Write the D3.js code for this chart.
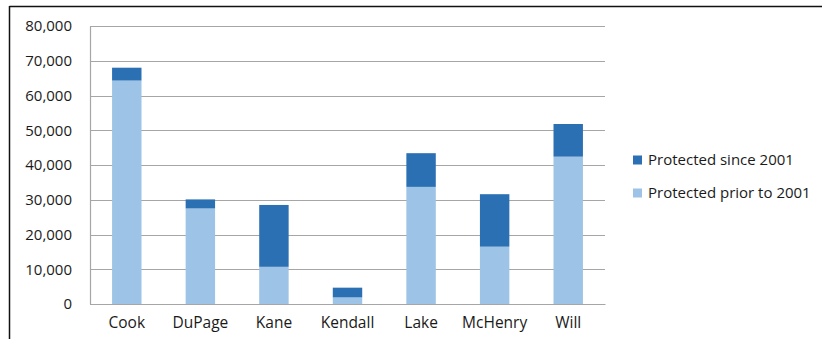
<!DOCTYPE html>
<html>
<head>
<meta charset="utf-8">
<script src="https://cdn.jsdelivr.net/npm/d3@7"></script>
<style>
  body { margin: 0; background: #fff; }
  svg { display: block; font-family: "Open Sans", "Noto Sans", sans-serif; }
</style>
</head>
<body>
<div id="chart"></div>
<script>
// Data
const counties = ["Cook", "DuPage", "Kane", "Kendall", "Lake", "McHenry", "Will"];
const priorTo2001 = [64300, 27500, 10700, 1900, 33700, 16500, 42400];
const since2001 = [3700, 2600, 17800, 2800, 9700, 15100, 9400];
const yTicks = [0, 10000, 20000, 30000, 40000, 50000, 60000, 70000, 80000];
const seriesNames = ["Protected since 2001", "Protected prior to 2001"];
const colors = { since: "#2c70b4", prior: "#9dc3e6" };

const width = 822;
const height = 339;
const margin = { top: 26, right: 217, bottom: 35, left: 90 };
const chartWidth = width - margin.left - margin.right;
const chartHeight = height - margin.top - margin.bottom;

const svg = d3.select("#chart")
    .append("svg")
    .attr("width", width)
    .attr("height", height);

// Frame (top and left edges visible in the picture)
svg.append("line")
    .attr("x1", 9.5).attr("x2", width)
    .attr("y1", 6.5).attr("y2", 6.5)
    .attr("stroke", "#111").attr("stroke-width", 1.5);
svg.append("line")
    .attr("x1", 9.5).attr("x2", 9.5)
    .attr("y1", 6).attr("y2", height)
    .attr("stroke", "#111").attr("stroke-width", 1.5);

const g = svg.append("g")
    .attr("transform", `translate(${margin.left},${margin.top})`);

const x = d3.scaleBand()
    .domain(counties)
    .range([0, chartWidth])
    .paddingInner(0.6)
    .paddingOuter(0.3);

const y = d3.scaleLinear()
    .domain([0, 80000])
    .range([chartHeight, 0]);

// Grid lines
g.append("g")
    .selectAll("line")
    .data(yTicks)
    .enter()
    .append("line")
    .attr("x1", 0)
    .attr("x2", chartWidth)
    .attr("y1", d => Math.round(y(d)) + 0.5)
    .attr("y2", d => Math.round(y(d)) + 0.5)
    .attr("stroke", "#a6a6a6")
    .attr("stroke-width", 1.2);

// Y axis
const yAxis = g.append("g")
    .call(d3.axisLeft(y).tickValues(yTicks).tickSize(0).tickPadding(18)
        .tickFormat(d3.format(",")));
yAxis.select(".domain").attr("stroke", "#a6a6a6").attr("stroke-width", 1.2);
yAxis.selectAll("text")
    .attr("font-size", "15px")
    .attr("fill", "#1a1a1a")
    .attr("font-family", "\"Open Sans\", sans-serif");

// Stacked bars
const rows = counties.map((c, i) => ({ county: c, prior: priorTo2001[i], since: since2001[i] }));

g.selectAll(".bar-prior")
    .data(rows)
    .enter()
    .append("rect")
    .attr("class", "bar-prior")
    .attr("x", d => x(d.county))
    .attr("width", x.bandwidth())
    .attr("y", d => y(d.prior))
    .attr("height", d => chartHeight - y(d.prior))
    .attr("fill", colors.prior);

g.selectAll(".bar-since")
    .data(rows)
    .enter()
    .append("rect")
    .attr("class", "bar-since")
    .attr("x", d => x(d.county))
    .attr("width", x.bandwidth())
    .attr("y", d => y(d.prior + d.since))
    .attr("height", d => y(d.prior) - y(d.prior + d.since))
    .attr("fill", colors.since);

// X axis
const xAxis = g.append("g")
    .attr("transform", `translate(0,${chartHeight})`)
    .call(d3.axisBottom(x).tickSize(0).tickPadding(13));
xAxis.select(".domain").attr("stroke", "#a6a6a6").attr("stroke-width", 1.2);
xAxis.selectAll("text")
    .attr("font-size", "15.5px")
    .attr("fill", "#1a1a1a")
    .attr("font-family", "\"Open Sans\", sans-serif");

// Legend
const legend = svg.append("g")
    .attr("transform", "translate(633,160)");
[colors.since, colors.prior].forEach((c, i) => {
    legend.append("rect")
        .attr("x", 0)
        .attr("y", i * 33 - 4.5)
        .attr("width", 9)
        .attr("height", 9)
        .attr("fill", c);
    legend.append("text")
        .attr("x", 15)
        .attr("y", i * 33)
        .attr("dy", "0.35em")
        .attr("font-size", "15px")
        .attr("fill", "#1a1a1a")
        .text(seriesNames[i]);
});
</script>
</body>
</html>
